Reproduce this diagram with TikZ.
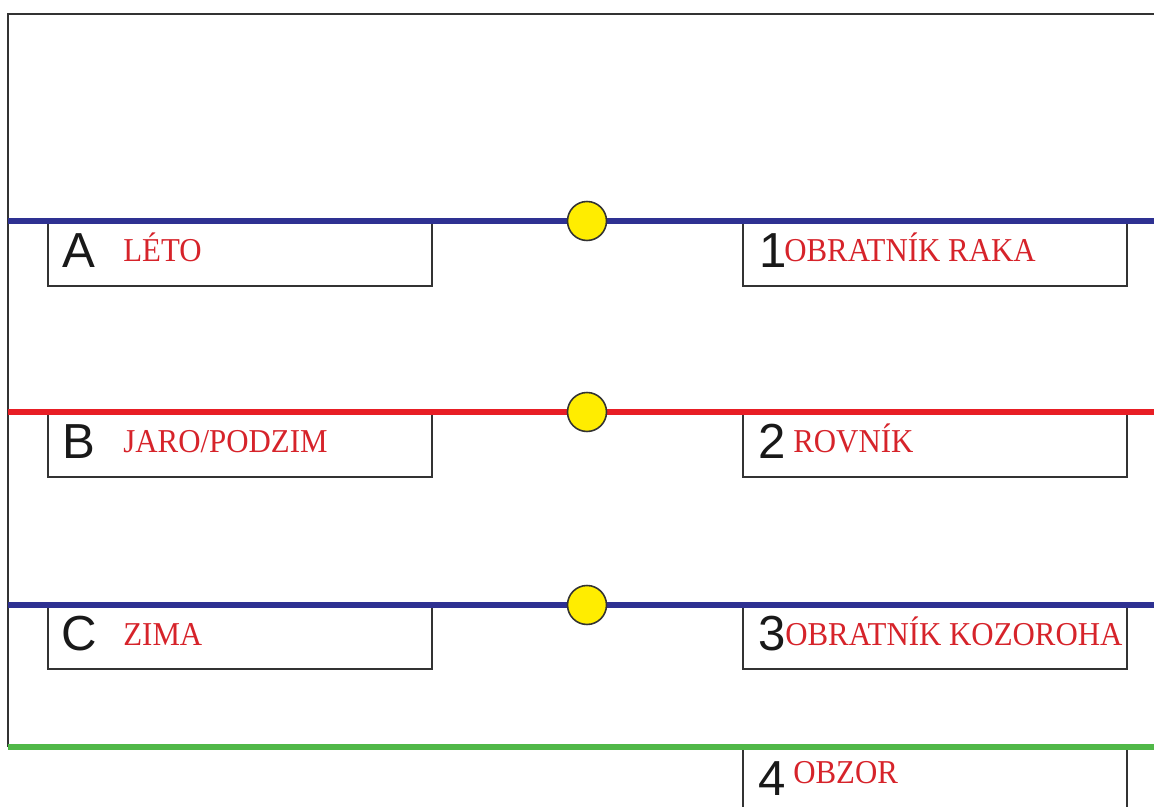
\documentclass[tikz,border=0pt]{standalone}
\usepackage{fontspec}
\setmainfont{Liberation Serif}
\newfontfamily\lettersans{Liberation Sans}
\newfontfamily\labelserif[FakeStretch=0.925]{Liberation Serif}
\usetikzlibrary{positioning}
\definecolor{cancerblue}{RGB}{46,49,146}
\definecolor{equatorred}{RGB}{232,30,37}
\definecolor{horizongreen}{RGB}{80,184,72}
\definecolor{sunyellow}{RGB}{255,237,0}
\definecolor{frameline}{RGB}{51,51,51}
\definecolor{textred}{RGB}{214,35,42}
\tikzset{
  zoneline/.style={line width=2.9pt},
  sun/.style={circle, draw=frameline, line width=0.9pt, fill=sunyellow, minimum size=0.78cm, inner sep=0pt},
  namebox/.style={draw=frameline, line width=0.9pt, anchor=north west, minimum width=7.69cm, minimum height=1.26cm, inner sep=0pt},
  letter/.style={font=\lettersans\fontsize{28}{30}\selectfont, text=black!90, anchor=base west, inner sep=0pt},
  redtext/.style={font=\labelserif\fontsize{19}{21}\selectfont, text=textred, anchor=base west, inner sep=0pt}
}
\begin{document}
\begin{tikzpicture}[x=0.02cm, y=-0.02cm]
			%%%%% START %%%%%
			\useasboundingbox (0,0) rectangle (1154,807);
			\clip (0,0) rectangle (1154,807);
			
			% frame
			\draw[frameline, line width=0.9pt] (8,747) -- (8,14) -- (1154,14);
			
			% boxes
			\node[namebox] (boxA) at (47,222) {};
			\node[namebox] (boxB) at (47,413) {};
			\node[namebox] (boxC) at (47,605) {};
			\node[namebox] (box1) at (742,222) {};
			\node[namebox] (box2) at (742,413) {};
			\node[namebox] (box3) at (742,605) {};
			\node[namebox, minimum height=2cm] (box4) at (742,748) {};
			
			% lines
			\coordinate (cancerW) at (8,221);
			\coordinate (cancerE) at (1154,221);
			\coordinate (equatorW) at (8,412);
			\coordinate (equatorE) at (1154,412);
			\coordinate (capricornW) at (8,605);
			\coordinate (capricornE) at (1154,605);
			\coordinate (horizonW) at (8,747);
			\coordinate (horizonE) at (1154,747);
			\draw[zoneline, cancerblue] (cancerW) -- (cancerE);
			\draw[zoneline, equatorred] (equatorW) -- (equatorE);
			\draw[zoneline, cancerblue] (capricornW) -- (capricornE);
			\draw[zoneline, horizongreen] (horizonW) -- (horizonE);
			
			% suns
			\node[sun] (sunA) at (587,221) {};
			\node[sun] (sunB) at (587,412) {};
			\node[sun] (sunC) at (587,605) {};
			
			% texts
			\node[letter] (letA) at (62,268) {A};
			\node[redtext] (txtA) at (123,262) {LÉTO};
			\node[letter] (letB) at (62,459) {B};
			\node[redtext] (txtB) at (123,453) {JARO/PODZIM};
			\node[letter] (letC) at (61,651) {C};
			\node[redtext] (txtC) at (123,646) {ZIMA};
			\node[letter] (num1) at (759,268) {1};
			\node[redtext] (txt1) at (784,262) {OBRATNÍK RAKA};
			\node[letter] (num2) at (758,459) {2};
			\node[redtext] (txt2) at (793,453) {ROVNÍK};
			\node[letter] (num3) at (758,651) {3};
			\node[redtext] (txt3) at (785,646) {OBRATNÍK KOZOROHA};
			\node[letter] (num4) at (758,795) {4};
			\node[redtext] (txt4) at (793,784) {OBZOR};
			%%%%% END %%%%%
\end{tikzpicture}
\end{document}
